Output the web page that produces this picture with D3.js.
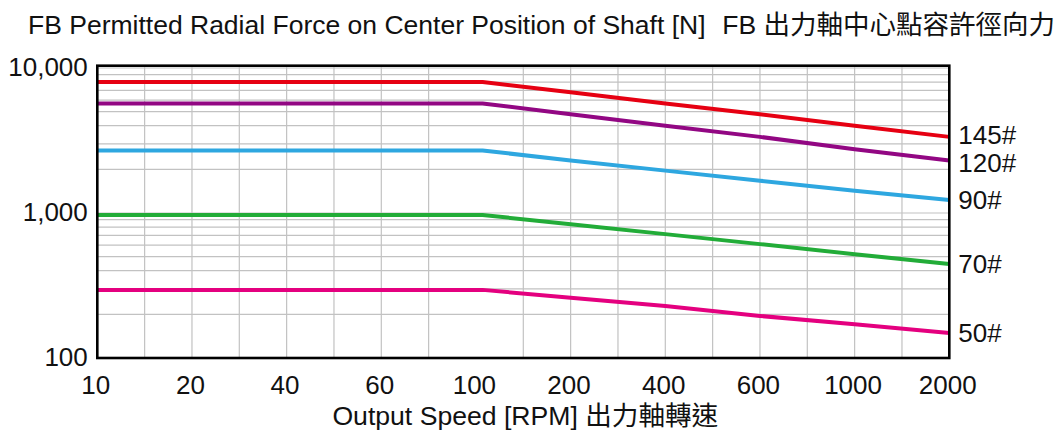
<!DOCTYPE html>
<html>
<head>
<meta charset="utf-8">
<script src="https://cdn.jsdelivr.net/npm/d3@7"></script>
<style>
  html, body { margin: 0; padding: 0; background: #fff; }
  svg { display: block; }
  text { font-family: "Liberation Sans", Arial, "Noto Sans CJK TC", sans-serif; fill: #111; }
</style>
</head>
<body>
<svg id="chart" width="1063" height="434"></svg>
<script>
// ---- data ----
const titleEn = "FB Permitted Radial Force on Center Position of Shaft [N]";
const titleZh = "FB 出力軸中心點容許徑向力";
const xTitle = "Output Speed [RPM] 出力軸轉速";

const speedTicks = [10, 20, 40, 60, 100, 200, 400, 600, 1000, 2000];
const speedTickLabels = ["10", "20", "40", "60", "100", "200", "400", "600", "1000", "2000"];
const forceTicks = [100, 1000, 10000];
const forceTickLabels = ["100", "1,000", "10,000"];

const speeds = [10, 105, 200, 400, 600, 1000, 2000];
const seriesNames = ["145#", "120#", "90#", "70#", "50#"];
const values145 = [8000, 8000, 6800, 5700, 4800, 4000, 3350];
const values120 = [5700, 5700, 4800, 4000, 3350, 2750, 2300];
const values90  = [2700, 2700, 2300, 1960, 1670, 1425, 1230];
const values70  = [970, 970, 835, 715, 610, 520, 445];
const values50  = [295, 295, 260, 228, 195, 171, 149];
const seriesColors = ["#e60012", "#920783", "#2ea7e0", "#22ac38", "#e4007f"];

const seriesValues = [values145, values120, values90, values70, values50];

// ---- layout ----
const svg = d3.select("#chart");
const plotL = 97.3, plotR = 949.3, plotT = 68, plotB = 358;
const fs = 26;

const xIndex = d3.scaleLinear().domain([0, speedTicks.length - 1]).range([plotL, plotR]);
const x = d3.scaleLog().domain(speedTicks).range(speedTicks.map((d, i) => xIndex(i)));
const y = d3.scaleLog().domain([100, 10000]).range([plotB, plotT]);

// ---- grid ----
const grid = svg.append("g");
const gridIdx = d3.range(0.5, speedTicks.length - 1, 0.5)
  .filter(i => speedTicks[i] !== 100);
grid.selectAll("line.v").data(gridIdx).join("line")
  .attr("class", "v")
  .attr("x1", d => xIndex(d)).attr("x2", d => xIndex(d))
  .attr("y1", plotT - 2.3).attr("y2", plotB)
  .attr("stroke", "#c2c2c2").attr("stroke-width", 1.2);

const yGrid = [];
[100, 1000].forEach(dec => { for (let k = 2; k <= 10; k++) yGrid.push(dec * k); });
grid.selectAll("line.h").data(yGrid).join("line")
  .attr("class", "h")
  .attr("x1", plotL).attr("x2", plotR)
  .attr("y1", d => y(d)).attr("y2", d => y(d))
  .attr("stroke", "#c2c2c2").attr("stroke-width", 1.2);

// ---- series ----
const line = d3.line().x((d, i) => x(speeds[i])).y(d => y(d));
svg.append("g").selectAll("path").data(seriesValues).join("path")
  .attr("d", d => line(d))
  .attr("fill", "none")
  .attr("stroke", (d, i) => seriesColors[i])
  .attr("stroke-width", 4)
  .attr("stroke-linejoin", "round");

// ---- frame ----
svg.append("rect")
  .attr("x", plotL).attr("y", plotT - 2.3)
  .attr("width", plotR - plotL).attr("height", plotB - plotT + 2.3)
  .attr("fill", "none").attr("stroke", "#000").attr("stroke-width", 2.6);

// ---- axes labels ----
const xAxis = d3.axisBottom(x).tickValues(speedTicks)
  .tickFormat((d, i) => speedTickLabels[i]).tickSize(0).tickPadding(0);
const gx = svg.append("g").attr("transform", `translate(0,${plotB})`).call(xAxis);
gx.select(".domain").remove();
gx.selectAll("text").attr("font-size", fs).attr("dy", null).attr("y", 36)
  .attr("dx", "-0.08em")
  .attr("fill", "#111").style("font-family", "'Liberation Sans', Arial, sans-serif");

const yAxis = d3.axisLeft(y).tickValues(forceTicks)
  .tickFormat((d, i) => forceTickLabels[i]).tickSize(0).tickPadding(0);
const gy = svg.append("g").attr("transform", `translate(${plotL - 9.5},0)`).call(yAxis);
gy.select(".domain").remove();
gy.selectAll("text").attr("font-size", fs).attr("dy", "0.3em").attr("x", 0)
  .attr("fill", "#111").style("font-family", "'Liberation Sans', Arial, sans-serif");

// ---- series end labels with simple de-overlap ----
const ends = seriesValues.map((v, i) => ({ name: seriesNames[i], y: y(v[v.length - 1]) }));
const minGap = 28;
for (let iter = 0; iter < 20; iter++) {
  for (let i = 1; i < ends.length; i++) {
    const gap = ends[i].y - ends[i - 1].y;
    if (gap < minGap) {
      const push = (minGap - gap) / 2;
      ends[i - 1].y -= push; ends[i].y += push;
    }
  }
}
svg.append("g").selectAll("text").data(ends).join("text")
  .attr("x", plotR + 9).attr("y", d => d.y).attr("dy", "0.35em")
  .attr("font-size", fs).text(d => d.name);

// ---- titles ----
svg.append("text").attr("x", 28).attr("y", 34).attr("font-size", 26.5).text(titleEn);
svg.append("text").attr("x", 1055).attr("y", 34)
  .attr("text-anchor", "end").attr("font-size", 26.5).text(titleZh);
svg.append("text").attr("x", (plotL + plotR) / 2 + 2).attr("y", 425)
  .attr("text-anchor", "middle").attr("font-size", 26.6).text(xTitle);
</script>
</body>
</html>
